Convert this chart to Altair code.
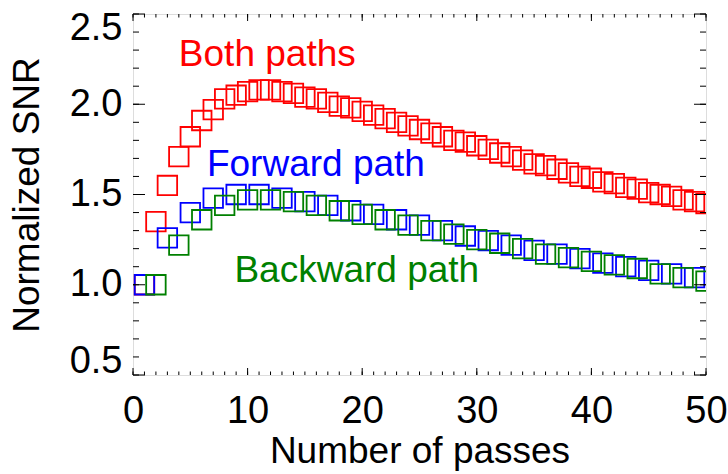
import altair as alt
import pandas as pd

# Normalized SNR versus number of passes
passes_both = list(range(1, 51))
snr_both = [1.00, 1.35, 1.55, 1.71, 1.82, 1.91, 1.97, 2.03, 2.05, 2.07,
            2.08, 2.08, 2.07, 2.06, 2.04, 2.03, 2.01, 1.99, 1.98, 1.96,
            1.94, 1.92, 1.90, 1.88, 1.86, 1.84, 1.82, 1.80, 1.79, 1.77,
            1.75, 1.73, 1.71, 1.69, 1.67, 1.66, 1.64, 1.62, 1.60, 1.59,
            1.57, 1.56, 1.54, 1.53, 1.51, 1.50, 1.49, 1.47, 1.46, 1.45]

passes_forward = list(range(1, 50, 2))
snr_forward = [1.00, 1.26, 1.40, 1.48, 1.50, 1.50, 1.48, 1.46, 1.44, 1.41,
               1.39, 1.36, 1.33, 1.30, 1.27, 1.245, 1.22, 1.19, 1.17, 1.145,
               1.12, 1.10, 1.08, 1.06, 1.04]

passes_backward = list(range(2, 51, 2))
snr_backward = [1.00, 1.22, 1.36, 1.44, 1.47, 1.47, 1.46, 1.44, 1.41, 1.39,
                1.36, 1.33, 1.30, 1.28, 1.25, 1.23, 1.20, 1.17, 1.15, 1.13,
                1.11, 1.09, 1.06, 1.04, 1.02]

series_names = ["Both paths", "Forward path", "Backward path"]
series_colors = ["#ff0000", "#0000ff", "#008000"]

# In-plot labels, placed in data coordinates (left edge, baseline)
label_x = [4.0, 6.45, 8.85]
label_y = [2.214, 1.604, 1.017]

# Axis tick positions
x_major = [0, 10, 20, 30, 40, 50]
x_minor = list(range(0, 51))
y_major = [0.5, 1.0, 1.5, 2.0, 2.5]
y_minor = [0.5, 0.6, 0.7, 0.8, 0.9, 1.0, 1.1, 1.2, 1.3, 1.4, 1.5,
           1.6, 1.7, 1.8, 1.9, 2.0, 2.1, 2.2, 2.3, 2.4, 2.5]

W, H = 573, 361
FONT = "Liberation Sans"

points = pd.concat([
    pd.DataFrame({"pass": passes_both, "snr": snr_both, "series": series_names[0]}),
    pd.DataFrame({"pass": passes_forward, "snr": snr_forward, "series": series_names[1]}),
    pd.DataFrame({"pass": passes_backward, "snr": snr_backward, "series": series_names[2]}),
], ignore_index=True)

labels = pd.DataFrame({"series": series_names, "x": label_x, "y": label_y})

xscale = alt.Scale(domain=[0, 50], nice=False, zero=False)
yscale = alt.Scale(domain=[0.5, 2.5], nice=False, zero=False)
color = alt.Color("series:N", scale=alt.Scale(domain=series_names, range=series_colors), legend=None)

# One axis definition per channel, shared by every layer so they merge cleanly
x_axis = alt.Axis(
    title="Number of passes", values=x_major, format="d",
    ticks=False, domain=False, grid=False, labelFlush=False,
    labelFont=FONT, labelFontSize=38, labelColor="black", labelPadding=17,
    titleFont=FONT, titleFontSize=37, titleFontWeight="normal",
    titleColor="black", titlePadding=3)
y_axis = alt.Axis(
    title="Normalized SNR", values=y_major, format=".1f",
    ticks=False, domain=False, grid=False,
    labelFlush=True, labelFlushOffset=5,
    labelFont=FONT, labelFontSize=38, labelColor="black", labelPadding=11,
    titleFont=FONT, titleFontSize=37, titleFontWeight="normal",
    titleColor="black", titlePadding=23)

marks = alt.Chart(points).mark_point(
    shape="square", filled=False, size=380, strokeWidth=1.8, opacity=1, clip=True
).encode(
    x=alt.X("pass:Q", scale=xscale, axis=x_axis),
    y=alt.Y("snr:Q", scale=yscale, axis=y_axis),
    color=color,
)

text = alt.Chart(labels).mark_text(
    align="left", baseline="alphabetic", font=FONT, fontSize=37
).encode(
    x=alt.X("x:Q", scale=xscale, axis=x_axis),
    y=alt.Y("y:Q", scale=yscale, axis=y_axis),
    text=alt.Text("series:N"),
    color=color,
)


def x_ticks(vals, length):
    d = pd.DataFrame({"v": vals})
    base = alt.Chart(d).mark_rule(color="black", strokeWidth=1)
    xe = alt.X("v:Q", scale=xscale, axis=x_axis)
    return [base.encode(x=xe, y=alt.value(H), y2=alt.value(H - length)),
            base.encode(x=xe, y=alt.value(0), y2=alt.value(length))]


def y_ticks(vals, length):
    d = pd.DataFrame({"v": vals})
    base = alt.Chart(d).mark_rule(color="black", strokeWidth=1)
    ye = alt.Y("v:Q", scale=yscale, axis=y_axis)
    return [base.encode(y=ye, x=alt.value(0), x2=alt.value(length)),
            base.encode(y=ye, x=alt.value(W - length), x2=alt.value(W))]


tick_layers = x_ticks(x_minor, 3.5) + x_ticks(x_major, 7) + y_ticks(y_minor, 6) + y_ticks(y_major, 12)

chart = alt.layer(marks, *tick_layers, text).properties(
    width=W, height=H,
    autosize=alt.AutoSizeParams(type="none"),
    padding={"left": 133, "top": 14, "right": 22, "bottom": 99},
).configure_view(stroke="black", strokeWidth=1.5).configure(background="white")

chart.save("out.html", embed_options={"renderer": "svg", "actions": False})
